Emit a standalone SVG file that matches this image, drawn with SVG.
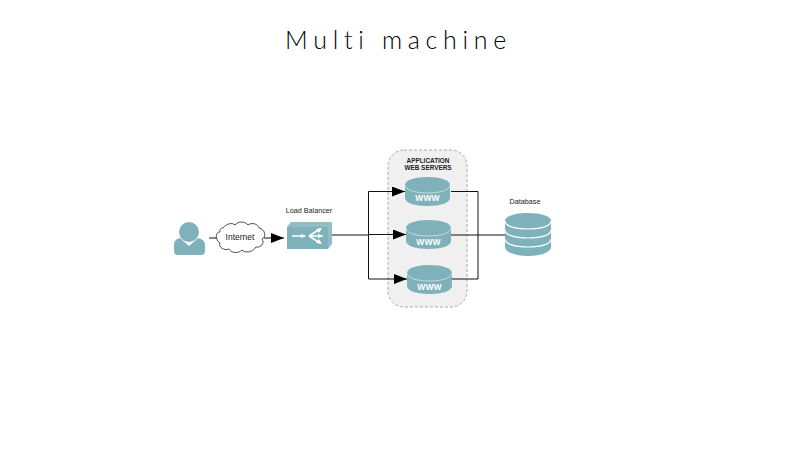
<svg xmlns="http://www.w3.org/2000/svg" width="800" height="450" viewBox="0 0 800 450">
<defs>
<style>
text{font-family:"Liberation Sans",Arial,sans-serif;fill:#222}
.f{fill:#7fb1ba}
.w{stroke:#fff;stroke-width:.7;stroke-opacity:.75;fill:none}
.d{stroke:#fff;stroke-width:1.200;fill:none}
.c{stroke:#111;stroke-width:1;fill:none}
.www{fill:#fff;font-size:8.500px;font-weight:bold;text-anchor:middle;letter-spacing:.2px}
.l{font-size:7.200px;text-anchor:middle}
.h{font-size:6.400px;font-weight:bold;text-anchor:middle}
</style>
<marker id="a" markerUnits="userSpaceOnUse" markerWidth="14" markerHeight="10" refX="13" refY="5" orient="auto"><path d="M0 0L13 5L0 10Z" fill="#000"/></marker>
<g id="cyl">
<path class="f" d="M0 8C0 3 10 0 22.500 0S45 3 45 8V21C45 26 35 29 22.500 29S0 26 0 21Z"/>
<path class="w" d="M0 8C0 13 10 16 22.500 16S45 13 45 8"/>
</g>
</defs>
<rect width="800" height="450" fill="#fff"/>
<text x="398.500" y="49" text-anchor="middle" style="font-family:Lato,sans-serif;font-size:25px;font-weight:300;letter-spacing:5.700px;fill:#000">Multi machine</text>
<g id="app-servers">
<rect x="388" y="150" width="79" height="157" rx="16" fill="#f0f0f0" stroke="#aaa" stroke-dasharray="3 2"/>
<text class="h" x="428" y="163">APPLICATION</text>
<text class="h" x="428" y="170">WEB SERVERS</text>
</g>
<g id="connectors">
<path class="c" d="M209 238H218"/>
<path class="c" d="M264 238H284" marker-end="url(#a)"/>
<path class="c" stroke-width="1.300" d="M332 235H369"/>
<path class="c" d="M368.500 235V191.500H405" marker-end="url(#a)"/>
<path class="c" d="M369 234.500H406" marker-end="url(#a)"/>
<path class="c" d="M368.500 235V279H407" marker-end="url(#a)"/>
<path class="c" d="M451 191.500H478V279H452"/>
<path class="c" d="M451 235H505"/>
</g>
<g id="user">
<circle class="f" cx="189" cy="232" r="10"/>
<path class="f" d="M180 238L189 246L198 238C202 239 205 241 205 245V251C205 254 203 255 201 255H178C176 255 174 254 174 251V245C174 241 176 239 180 238Z"/>
</g>
<g id="internet">
<path d="M223 228C226 224 232 222 235 225C238 221 245 221 248 225C252 222 258 224 259 228C265 229 267 237 262 239C265 243 261 248 256 247C252 253 245 253 242 250C238 254 231 253 229 249C224 251 218 247 220 243C215 240 215 232 220 232C219 230 221 228 223 228Z" fill="#fff" stroke="#222" stroke-width=".8"/>
<text x="240" y="240" style="font-size:8.500px" text-anchor="middle">Internet</text>
</g>
<g id="load-balancer">
<text class="l" x="309" y="213">Load Balancer</text>
<path class="f" d="M287 227L291 222H332L328 227Z" opacity=".85"/>
<path class="f" d="M328 227L332 222V244L328 249Z" opacity=".85"/>
<rect class="f" x="287" y="227" width="41" height="22"/>
<path d="M292 236H305M309 236L320 229M309 236H321M309 236L320 243" stroke="#fff" stroke-width="1.500" fill="none"/>
<path d="M322 228L316 229L319 233ZM324 236L318 234V238ZM322 244L316 243L319 239ZM306 236L301 234V238Z" fill="#fff"/>
</g>
<g id="www-1"><use href="#cyl" x="405" y="177"/><text class="www" x="427.500" y="201">WWW</text></g>
<g id="www-2"><use href="#cyl" x="406" y="220"/><text class="www" x="428.500" y="245">WWW</text></g>
<g id="www-3"><use href="#cyl" x="407" y="265"/><text class="www" x="429.500" y="290">WWW</text></g>
<g id="database">
<text class="l" x="525" y="204">Database</text>
<path class="f" d="M505 221C505 216 515 213 528 213S551 216 551 221V247C551 252 541 256 528 256S505 252 505 247Z"/>
<path class="d" d="M505 221C505 226 515 229 528 229M528 229C541 229 551 226 551 221M505 230C505 235 515 238 528 238S551 235 551 230M505 239C505 244 515 247 528 247S551 244 551 239"/>
</g>
</svg>
